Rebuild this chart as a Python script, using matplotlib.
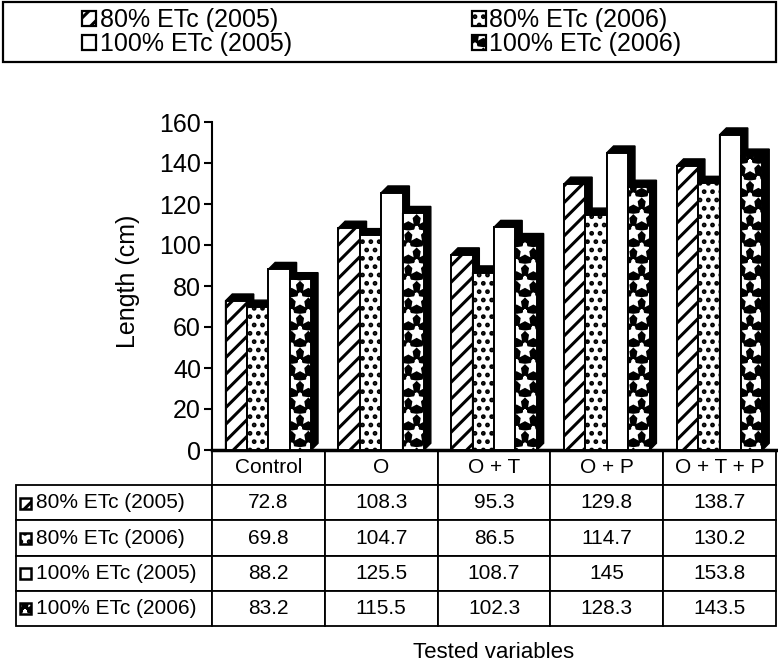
import matplotlib.pyplot as plt
from matplotlib.patches import Patch, Polygon, Rectangle
import numpy as np

plt.rcParams["font.family"] = ["Liberation Sans", "DejaVu Sans"]
plt.rcParams["hatch.linewidth"] = 2.2

TREATMENTS = ["Control", "O", "O + T", "O + P", "O + T + P"]
SERIES = ["80% ETc (2005)", "80% ETc (2006)", "100% ETc (2005)", "100% ETc (2006)"]
ETC80_2005 = [72.8, 108.3, 95.3, 129.8, 138.7]
ETC80_2006 = [69.8, 104.7, 86.5, 114.7, 130.2]
ETC100_2005 = [88.2, 125.5, 108.7, 145, 153.8]
ETC100_2006 = [83.2, 115.5, 102.3, 128.3, 143.5]
Y_TICKS = [0, 20, 40, 60, 80, 100, 120, 140, 160]

# fill / hatch colour / hatch for each series
STYLES = [
    ("white", "black", "//"),
    ("white", "black", ".."),
    ("white", "black", None),
    ("black", "white", "*"),
]

BAR_W = 0.19
DEPTH_X = 0.06    # 3-D depth, data units
DEPTH_Y = 3.3
LABEL_W = 0.3475  # row-label column of the table, axes fraction
TABLE_H = 0.5366


def face_patches(style, **kw):
    face, hcol, hatch = style
    fill = Patch(facecolor=face, edgecolor=hcol, hatch=hatch, linewidth=0, **kw)
    edge = Patch(facecolor="none", edgecolor="black", linewidth=1.6, **kw)
    return fill, edge


def swatch(ax, x, y, w, h, style):
    face, hcol, hatch = style
    ax.add_patch(Rectangle((x, y), w, h, facecolor=face, edgecolor=hcol, hatch=hatch,
                           linewidth=0, transform=ax.transAxes, clip_on=False, zorder=10))
    ax.add_patch(Rectangle((x, y), w, h, facecolor="none", edgecolor="black", linewidth=1.8,
                           transform=ax.transAxes, clip_on=False, zorder=11))


fig = plt.figure(figsize=(7.78, 6.66), dpi=100)
ax = fig.add_axes([212 / 778, 216 / 666, 564 / 778, 328 / 666])

values = [ETC80_2005, ETC80_2006, ETC100_2005, ETC100_2006]
x = np.arange(len(TREATMENTS))

for k, (vals, style) in enumerate(zip(values, STYLES)):
    left = x + (k - 2) * BAR_W
    # top and side faces as one dark block behind the front face
    for x0, h in zip(left, vals):
        x1 = x0 + BAR_W
        ax.add_patch(Polygon(
            [(x0, 0), (x0, h), (x0 + DEPTH_X, h + DEPTH_Y), (x1 + DEPTH_X, h + DEPTH_Y),
             (x1 + DEPTH_X, DEPTH_Y), (x1, 0)],
            closed=True, facecolor="black", edgecolor="black", linewidth=1.0,
            zorder=2 + 2 * k, clip_on=False))
    face, hcol, hatch = style
    ax.bar(left, vals, BAR_W, align="edge", color=face, edgecolor=hcol, hatch=hatch,
           linewidth=0, zorder=3 + 2 * k, clip_on=False)
    ax.bar(left, vals, BAR_W, align="edge", color="none", edgecolor="black",
           linewidth=1.4, zorder=3 + 2 * k, clip_on=False)

ax.set_xlim(-0.5, len(TREATMENTS) - 0.5)
ax.set_ylim(0, 160)
ax.set_yticks(Y_TICKS)
ax.set_xticks([])
ax.spines[["top", "right"]].set_visible(False)
ax.spines["left"].set_linewidth(1.5)
ax.spines["bottom"].set_linewidth(2.5)
ax.tick_params(axis="y", direction="out", length=6, width=1.5, labelsize=18, pad=2)
ax.set_ylabel("Length (cm)", fontsize=18)
ax.yaxis.set_label_coords(-0.128, 0.515)
ax.set_xlabel("Tested variables", fontsize=16)
ax.xaxis.set_label_coords(0.5, -0.585)

# data table under the plot
cell_text = [[name] + [f"{v:g}" for v in vals] for name, vals in zip(SERIES, values)]
tbl = ax.table(cellText=cell_text, colLabels=[""] + TREATMENTS, cellLoc="center",
               colWidths=[LABEL_W] + [1 / len(TREATMENTS)] * len(TREATMENTS),
               bbox=[-LABEL_W, -TABLE_H, 1 + LABEL_W, TABLE_H])
tbl.auto_set_font_size(False)
tbl.set_fontsize(15)
tbl[0, 0].set_visible(False)
for cell in tbl.get_celld().values():
    cell.set_linewidth(1.3)
row_h = TABLE_H / (len(SERIES) + 1)
for r, style in enumerate(STYLES, start=1):
    cell = tbl[r, 0]
    cell.get_text().set_ha("left")
    cell.PAD = 0.1
    yc = -TABLE_H + (len(SERIES) - r + 0.5) * row_h
    swatch(ax, -LABEL_W + 4 / 564, yc - 6 / 328, 11 / 564, 11 / 328, style)

# legend in a box across the top
fig.add_artist(Rectangle((3 / 778, 1 - 62 / 666), 773 / 778, 60 / 666, transform=fig.transFigure,
                         facecolor="none", edgecolor="black", linewidth=1.6))
handles = [face_patches(s) for s in STYLES]
order = [0, 2, 1, 3]
fig.legend([handles[i] for i in order], [SERIES[i] for i in order], ncol=2,
           loc="center", bbox_to_anchor=(0.491, 0.952), frameon=False, fontsize=18,
           handlelength=0.55, handleheight=0.55, handletextpad=0.15, columnspacing=7.2,
           labelspacing=0.0, borderpad=0)

fig.savefig("out.png", dpi=100)
